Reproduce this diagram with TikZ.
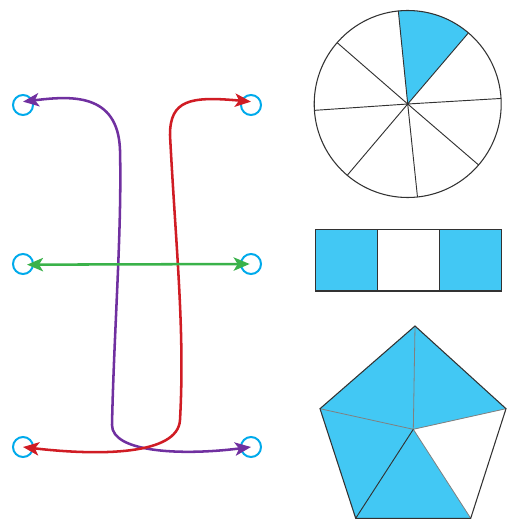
\documentclass[tikz,border=0pt]{standalone}
\usetikzlibrary{arrows.meta,calc}
\definecolor{ringblue}{RGB}{0,170,235}
\definecolor{fillblue}{RGB}{66,200,244}
\definecolor{arrpurple}{RGB}{112,48,160}
\definecolor{arrred}{RGB}{208,28,36}
\definecolor{arrgreen}{RGB}{58,178,74}
\definecolor{edge}{RGB}{50,50,50}
\tikzset{
  ring/.style={circle,draw=ringblue,line width=1.5pt,minimum size=15pt,inner sep=0pt},
  conn/.style={line width=1.9pt,{Stealth[length=12pt,width=10pt,inset=3pt]}-{Stealth[length=12pt,width=10pt,inset=3pt]}},
  outline/.style={draw=edge,line width=0.8pt},
  inner/.style={draw=gray,line width=0.6pt}
}
\begin{document}
\begin{tikzpicture}[x=0.75pt,y=-0.75pt]
\useasboundingbox (0,0) rectangle (509,527);
% rings
\node[ring] (tl) at (23,105) {};
\node[ring] (tr) at (251,105) {};
\node[ring] (ml) at (23,264) {};
\node[ring] (mr) at (251,264) {};
\node[ring] (bl) at (23,447) {};
\node[ring] (br) at (251,447) {};
% connectors
\draw[conn,arrpurple] ([yshift=2.5pt]tl.center) .. controls (70,96) and (118,92) .. (120,150)
  .. controls (122,230) and (114,330) .. (112,425)
  .. controls (112,452) and (180,456) .. (br.center);
\draw[conn,arrred] ([yshift=2.5pt]tr.center) .. controls (190,96) and (170,100) .. (170,135)
  .. controls (176,250) and (185,330) .. (180,420)
  .. controls (178,455) and (100,456) .. (bl.center);
\draw[conn,arrgreen] ([xshift=3pt,yshift=-0.5pt]ml.center) -- ([xshift=-1pt]mr.center);
% pie
\coordinate (pc) at (407.7,104);
\fill[fillblue] (pc) -- ($(pc)+(-95.75:93.5)$) arc[start angle=-95.75,end angle=-49.5,radius=93.5] -- cycle;
\foreach \a in {95.75,49.5,3.4,-40.7,-84,229.7,183.9,139}
  \draw[edge,line width=0.7pt] (pc) -- ++(-\a:93.5);
\draw[outline] (pc) circle[radius=93.5];
\fill[edge] (pc) circle[radius=1.2];
% bar
\fill[fillblue] (315.3,229.7) rectangle (377.3,291);
\fill[fillblue] (439.3,229.7) rectangle (501.3,291);
\draw[outline] (315.3,229.7) rectangle (501.3,291);
\draw[outline] (377.3,229.7) -- (377.3,291);
\draw[outline] (439.3,229.7) -- (439.3,291);
% pentagon
\coordinate (pt) at (415,326);
\coordinate (pr) at (506,408.7);
\coordinate (pbr) at (470.7,518.3);
\coordinate (pbl) at (355.7,518.3);
\coordinate (pl) at (320,408.7);
\coordinate (po) at (413.3,429.3);
\fill[fillblue] (pt) -- (pr) -- (po) -- (pbr) -- (pbl) -- (pl) -- cycle;
\draw[inner] (pt) -- (po) -- (pl);
\draw[inner] (po) -- (pr);
\draw[inner] (po) -- (pbr);
\draw[edge,line width=0.7pt] (po) -- (pbl);
\draw[outline] (pt) -- (pr) -- (pbr) -- (pbl) -- (pl) -- cycle;
\end{tikzpicture}
\end{document}
